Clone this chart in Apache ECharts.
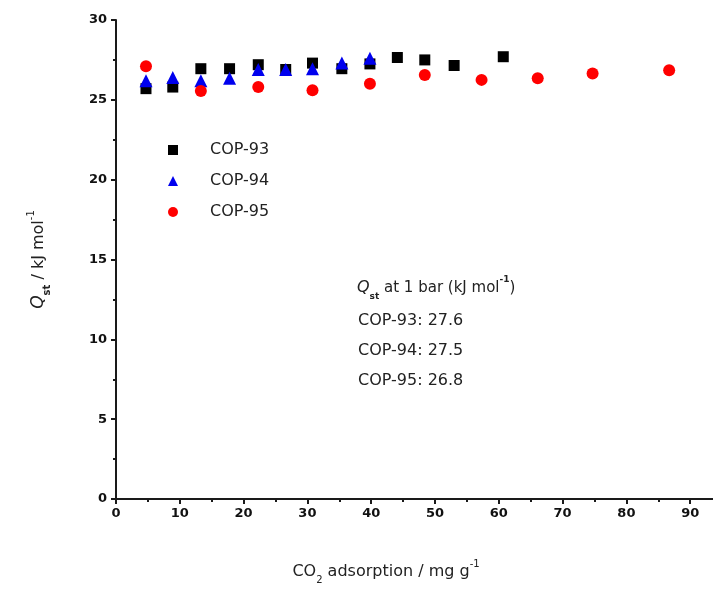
<!DOCTYPE html>
<html lang="en">
<head>
    <meta charset="UTF-8">
    <title>Qst vs CO2 adsorption</title>
    <script src="https://cdn.jsdelivr.net/npm/echarts@6.0.0/dist/echarts.min.js"></script>
    <style>
        html, body { margin: 0; padding: 0; background: #fff; }
    </style>
</head>
<body>
    <div id="main" style="width: 713px;height:590px;"></div>
    <script type="text/javascript">
        // values
        var seriesNames = ['COP-93', 'COP-94', 'COP-95'];
        var cop93X = [4.7, 8.9, 13.3, 17.8, 22.3, 26.6, 30.8, 35.4, 39.8, 44.1, 48.4, 53.0, 60.7];
        var cop93Y = [25.7, 25.8, 26.95, 26.95, 27.2, 26.9, 27.3, 26.95, 27.25, 27.65, 27.5, 27.15, 27.7];
        var cop94X = [4.7, 8.9, 13.3, 17.8, 22.3, 26.6, 30.8, 35.4, 39.8];
        var cop94Y = [26.2, 26.4, 26.2, 26.35, 26.9, 26.9, 26.95, 27.3, 27.6];
        var cop95X = [4.7, 13.3, 22.3, 30.8, 39.8, 48.4, 57.3, 66.1, 74.7, 86.7];
        var cop95Y = [27.1, 25.55, 25.8, 25.6, 26.0, 26.55, 26.25, 26.35, 26.65, 26.85];
        var qstLines = ['COP-93: 27.6', 'COP-94: 27.5', 'COP-95: 26.8'];

        function pairs(xs, ys) {
            return xs.map(function (x, i) { return [x, ys[i]]; });
        }

        var myChart = echarts.init(document.getElementById('main'));
        var axisColor = '#1a1a1a';
        var textFont = 'DejaVu Sans';

        var option = {
            animation: false,
            // the x axis runs on past the right edge, as in the cropped original
            grid: { left: 116, top: 20, height: 479, width: 638, outerBoundsMode: 'none', containLabel: false },
            xAxis: {
                type: 'value',
                min: 0, max: 100, interval: 10,
                splitLine: { show: false },
                axisLine: { onZero: false, lineStyle: { color: axisColor, width: 2 } },
                axisTick: { length: 5, lineStyle: { color: axisColor, width: 2 } },
                minorTick: { show: true, splitNumber: 2, length: 3, lineStyle: { color: axisColor, width: 2 } },
                axisLabel: { margin: 8, color: '#111', fontFamily: textFont, fontWeight: 'bold', fontSize: 13 },
                name: '{n|CO}{sub|2}{n| adsorption / mg g}{sup|-1}',
                nameLocation: 'middle',
                nameGap: 60,
                nameTextStyle: {
                    padding: [0, 98, 0, 0],
                    rich: {
                        n: { fontFamily: textFont, fontSize: 16, color: '#222' },
                        sub: { fontFamily: textFont, fontSize: 10, color: '#222', verticalAlign: 'bottom', lineHeight: 26 },
                        sup: { fontFamily: textFont, fontSize: 10, color: '#222', verticalAlign: 'top', lineHeight: 26 }
                    }
                }
            },
            yAxis: {
                type: 'value',
                min: 0, max: 30, interval: 5,
                splitLine: { show: false },
                axisLine: { lineStyle: { color: axisColor, width: 2 } },
                axisTick: { length: 5, lineStyle: { color: axisColor, width: 2 } },
                minorTick: { show: true, splitNumber: 2, length: 3, lineStyle: { color: axisColor, width: 2 } },
                axisLabel: { margin: 9, color: '#111', fontFamily: textFont, fontWeight: 'bold', fontSize: 13 },
                name: '{i|Q}{sub|st}{n| / kJ mol}{sup|-1}',
                nameLocation: 'middle',
                nameGap: 64,
                nameTextStyle: {
                    rich: {
                        i: { fontFamily: textFont, fontSize: 17, color: '#222', fontStyle: 'italic' },
                        n: { fontFamily: textFont, fontSize: 16, color: '#222' },
                        sub: { fontFamily: textFont, fontSize: 10, color: '#222', fontWeight: 'bold', verticalAlign: 'bottom', lineHeight: 26 },
                        sup: { fontFamily: textFont, fontSize: 10, color: '#222', verticalAlign: 'top', lineHeight: 26 }
                    }
                }
            },
            legend: {
                orient: 'vertical',
                left: 163,
                top: 137,
                itemWidth: 10,
                itemHeight: 10,
                itemGap: 15,
                textStyle: { fontFamily: textFont, fontSize: 16, color: '#222', padding: [0, 0, 0, 27] },
                data: seriesNames
            },
            series: [
                {
                    name: seriesNames[0],
                    type: 'scatter',
                    symbol: 'rect',
                    symbolSize: 11,
                    itemStyle: { color: '#000', opacity: 1 },
                    data: pairs(cop93X, cop93Y)
                },
                {
                    name: seriesNames[1],
                    type: 'scatter',
                    symbol: 'triangle',
                    symbolSize: 13,
                    itemStyle: { color: '#0000ee', opacity: 1 },
                    data: pairs(cop94X, cop94Y)
                },
                {
                    name: seriesNames[2],
                    type: 'scatter',
                    symbol: 'circle',
                    symbolSize: 12,
                    itemStyle: { color: '#ff0000', opacity: 1 },
                    data: pairs(cop95X, cop95Y)
                }
            ],
            graphic: [
                {
                    type: 'text', left: 357, top: 275,
                    style: {
                        text: '{i|Q}{sub|st}{n| at 1 bar (kJ mol}{sup|-1}{n|)}',
                        rich: {
                            i: { fontFamily: textFont, fontSize: 16, fill: '#222', fontStyle: 'italic' },
                            n: { fontFamily: textFont, fontSize: 15, fill: '#222' },
                            sub: { fontFamily: textFont, fontSize: 9, fill: '#222', fontWeight: 'bold', verticalAlign: 'bottom', lineHeight: 26 },
                            sup: { fontFamily: textFont, fontSize: 9, fill: '#222', fontWeight: 'bold', verticalAlign: 'top', lineHeight: 26 }
                        }
                    }
                },
                { type: 'text', left: 358, top: 313, style: { text: qstLines[0], fontFamily: textFont, fontSize: 16, fill: '#222' } },
                { type: 'text', left: 358, top: 343, style: { text: qstLines[1], fontFamily: textFont, fontSize: 16, fill: '#222' } },
                { type: 'text', left: 358, top: 373, style: { text: qstLines[2], fontFamily: textFont, fontSize: 16, fill: '#222' } }
            ]
        };
        myChart.setOption(option);
    </script>
</body>
</html>
